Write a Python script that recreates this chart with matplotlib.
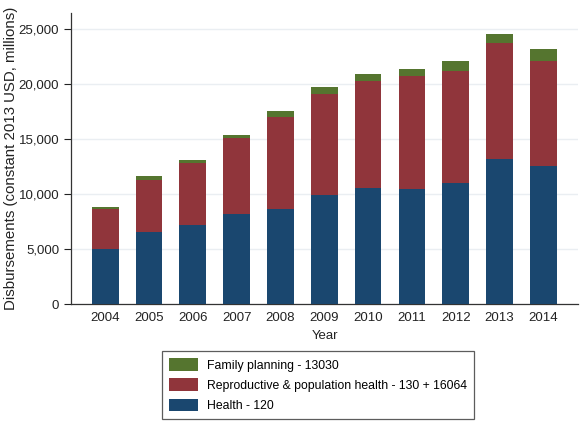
import matplotlib
matplotlib.use("Agg")
import matplotlib.pyplot as plt
from matplotlib.ticker import FuncFormatter

plt.rcParams['font.family'] = ['Liberation Sans', 'DejaVu Sans']

years = [2004, 2005, 2006, 2007, 2008, 2009, 2010, 2011, 2012, 2013, 2014]
health = [5000, 6550, 7180, 8200, 8600, 9900, 10550, 10480, 11030, 13200, 12570]
repro = [3600, 4700, 5620, 6900, 8370, 9160, 9720, 10220, 10170, 10500, 9530]
family = [200, 350, 300, 300, 530, 640, 630, 700, 860, 870, 1100]

labels = ["Family planning - 13030",
          "Reproductive & population health - 130 + 16064",
          "Health - 120"]
c_blue = '#1a476f'
c_red = '#90353b'
c_green = '#55752f'

fig = plt.figure(figsize=(5.8, 4.25), dpi=100)
ax = fig.add_axes([0.1224, 0.2847, 0.8742, 0.6847])

w = 0.61
b1 = ax.bar(years, health, width=w, color=c_blue, zorder=3)
bottom2 = health
b2 = ax.bar(years, repro, width=w, bottom=bottom2, color=c_red, zorder=3)
bottom3 = [h + r for h, r in zip(health, repro)]
b3 = ax.bar(years, family, width=w, bottom=bottom3, color=c_green, zorder=3)

ax.set_xlim(2003.22, 2014.79)
ax.set_ylim(0, 26450)
ax.set_xticks(years)
ax.set_yticks([0, 5000, 10000, 15000, 20000, 25000])
ax.yaxis.set_major_formatter(FuncFormatter(lambda v, p: f"{int(v):,}"))
ax.tick_params(axis='both', labelsize=9.5, colors='#222222', length=5, width=0.8)
ax.tick_params(axis='x', length=0, pad=6)
ax.grid(axis='y', color='#eaeef2', linewidth=1, zorder=0)
for s in ['top', 'right']:
    ax.spines[s].set_visible(False)
for s in ['left', 'bottom']:
    ax.spines[s].set_color('#333333')
    ax.spines[s].set_linewidth(0.9)

ax.set_xlabel("Year", fontsize=9.5, color='#222222', labelpad=4)
ax.set_ylabel("Disbursements (constant 2013 USD, millions)", fontsize=10.8,
              color='#222222')
ax.yaxis.set_label_coords(-0.105, 0.5)

leg = fig.legend([b3, b2, b1], labels, loc='center',
                 bbox_to_anchor=(0.548, 0.094),
                 fontsize=8.8, frameon=True, fancybox=False, handlelength=2.4,
                 handleheight=1.23, labelspacing=0.55, borderpad=0.56,
                 handletextpad=0.74, borderaxespad=0)
leg.get_frame().set_edgecolor('#333333')
leg.get_frame().set_linewidth(0.9)

fig.savefig("out.png", dpi=100)
